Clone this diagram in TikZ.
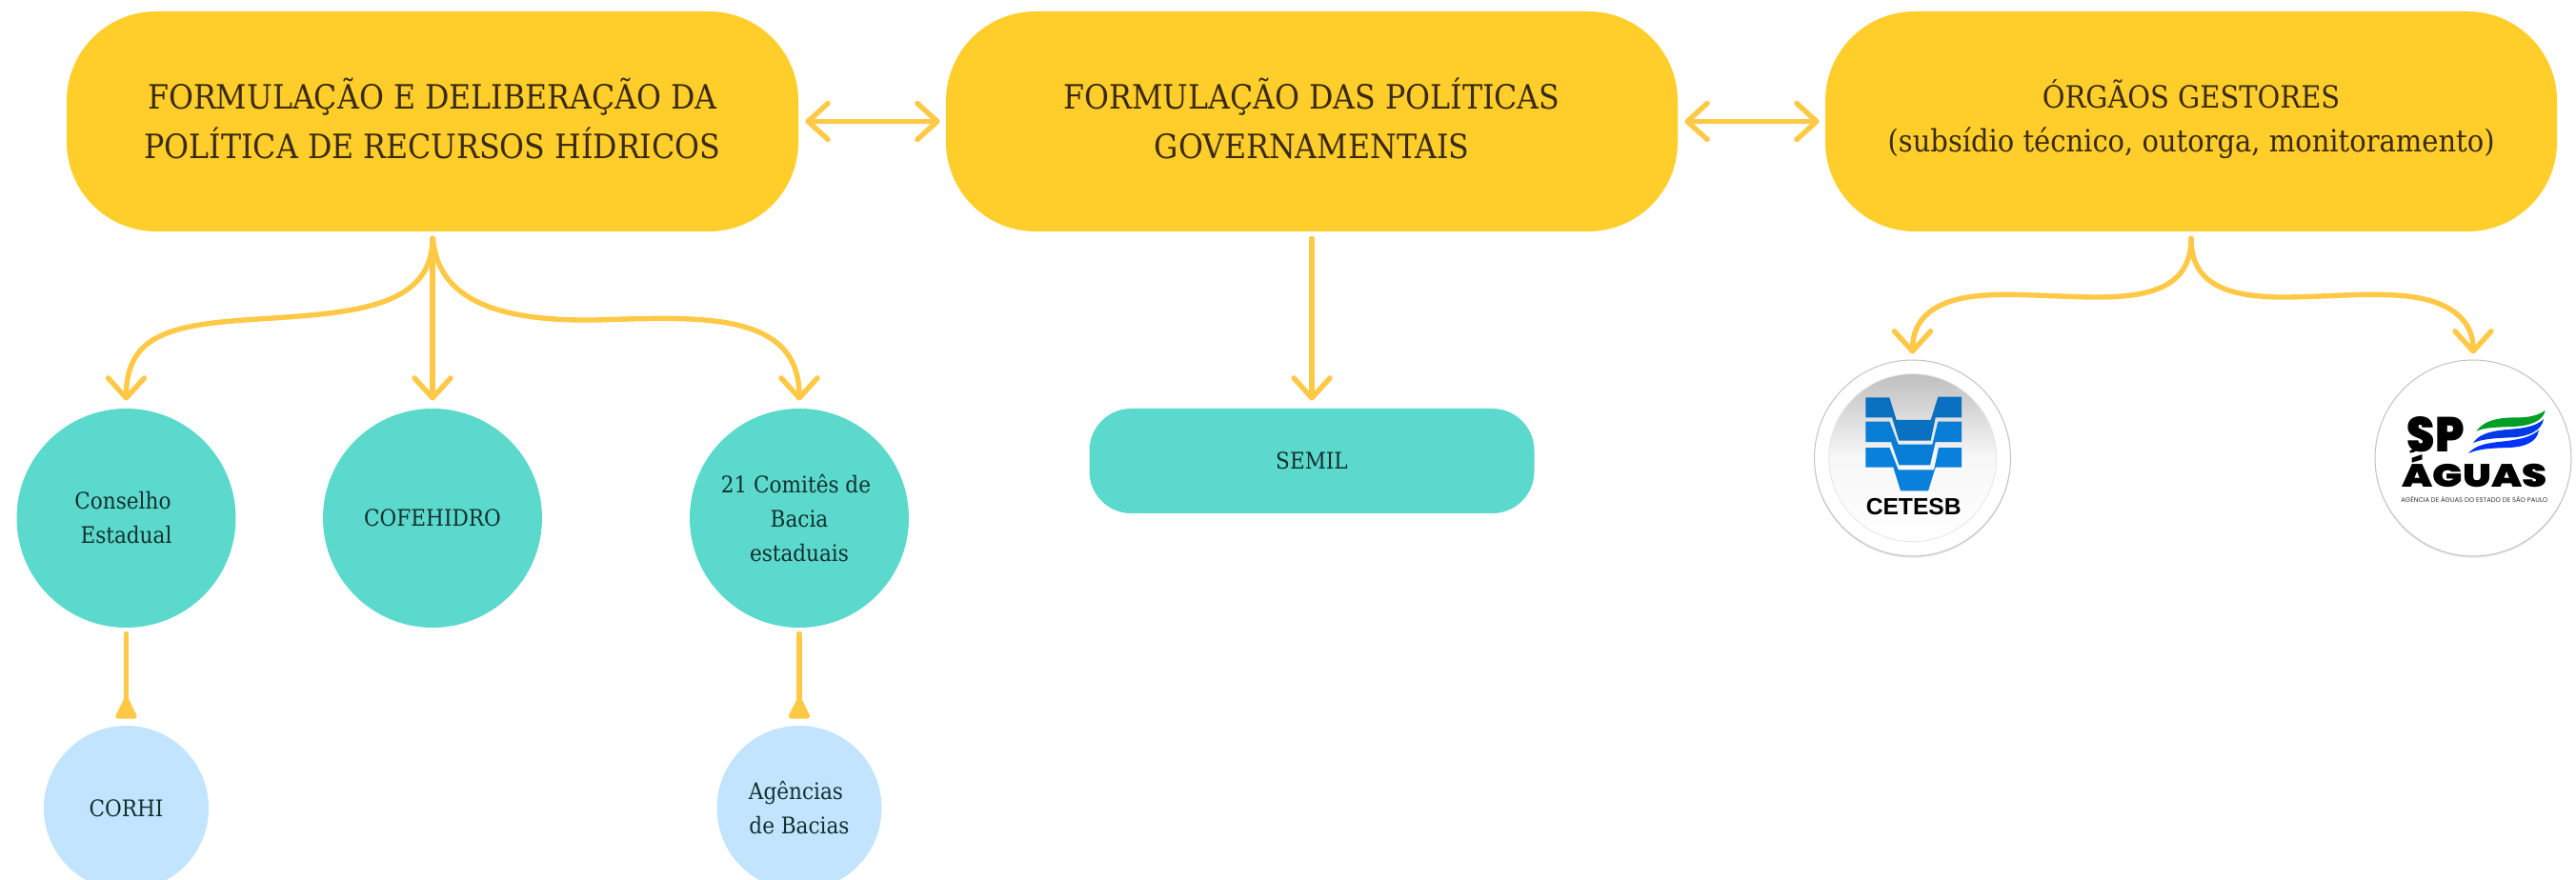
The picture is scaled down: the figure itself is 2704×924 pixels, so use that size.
\documentclass[tikz,border=0pt]{standalone}
\usepackage{fontspec}
\usepackage{graphicx}
\setmainfont{DejaVu Serif Condensed}
\newfontfamily\logofont{Poppins}
\newfontfamily\logoheavy{Poppins Black}
\newfontfamily\arialfont{Liberation Sans}
\usetikzlibrary{arrows.meta}
\definecolor{boxyellow}{HTML}{FFCE2B}
\definecolor{linkyellow}{HTML}{FFC845}
\definecolor{tealfill}{HTML}{5CD9CD}
\definecolor{bluefill}{HTML}{C2E4FF}
\definecolor{ink}{HTML}{3A2A10}
\definecolor{tealink}{HTML}{12302E}
\definecolor{logoA}{HTML}{0A70C0}
\definecolor{logoB}{HTML}{0880DC}
\tikzset{
  topbox/.style={rectangle,rounded corners=47pt,fill=boxyellow,minimum width=384pt,minimum height=115.5pt,inner sep=0pt,align=center,text=ink,font=\fontsize{17.6}{26}\selectfont},
  midcircle/.style={circle,fill=tealfill,minimum size=115pt,inner sep=0pt,align=center,text=tealink,font=\fontsize{12}{18}\selectfont},
  lowcircle/.style={circle,fill=bluefill,minimum size=86.5pt,inner sep=0pt,align=center,text=tealink,font=\fontsize{12}{18}\selectfont},
  semilbox/.style={rectangle,rounded corners=22pt,fill=tealfill,minimum width=233.5pt,minimum height=55pt,inner sep=0pt,text=tealink,font=\fontsize{12}{18}\selectfont},
  logocircle/.style={circle,fill=white,draw=black!24,line width=.5pt,minimum size=103pt,inner sep=0pt},
  barb/.style={line width=2.7pt,draw=linkyellow,line cap=round,-{Straight Barb[round,length=10.5pt,width=19pt]},shorten <=3.5pt,shorten >=3.5pt},
  dbarb/.style={line width=2.7pt,draw=linkyellow,line cap=round,{Straight Barb[round,length=10.5pt,width=19pt]}-{Straight Barb[round,length=10.5pt,width=19pt]},shorten <=3.5pt,shorten >=3pt},
  tri/.style={line width=2.6pt,draw=linkyellow,line cap=round,-{Triangle[reversed,length=13pt,width=12pt,round]},shorten <=3pt,shorten >=3.5pt},
}
\begin{document}
\begin{tikzpicture}[x=0.5pt,y=-0.5pt]
\clip (0,0) rectangle (2704,924);
\fill[white] (0,0) rectangle (2704,924);
% top boxes
\node[topbox] (b1) at (454,127.5) {FORMULAÇÃO E DELIBERAÇÃO DA\\POLÍTICA DE RECURSOS HÍDRICOS\rule[-3.5pt]{0pt}{0pt}};
\node[topbox] (b2) at (1377,127.5) {FORMULAÇÃO DAS POLÍTICAS\\GOVERNAMENTAIS\rule[-3.5pt]{0pt}{0pt}};
\node[topbox,font=\fontsize{16.1}{23}\selectfont] (b3) at (2300,127.5) {ÓRGÃOS GESTORES\\(subsídio técnico, outorga, monitoramento)\rule[-5.5pt]{0pt}{0pt}};
% second row
\node[midcircle] (c1) at (132.5,544) {Conselho\hspace*{3.5pt}\\Estadual};
\node[midcircle] (c2) at (454,544) {COFEHIDRO};
\node[midcircle] (c3) at (839,544) {21 Comitês de\hspace*{3.5pt}\\Bacia\hspace*{3.5pt}\\estaduais};
\node[semilbox] (s) at (1377,484) {SEMIL};
\node[lowcircle] (d1) at (132.5,848.5) {CORHI};
\node[lowcircle] (d2) at (839,848.5) {Agências\hspace*{3.5pt}\\de Bacias};
\fill[black!7] (2007.5,483) circle[radius=103];
\fill[black!7] (2596,483) circle[radius=103];
\node[logocircle] (cet) at (2007.5,481) {};
\node[logocircle] (spa) at (2596,481) {};
% connectors
\draw[dbarb] (b1.east) -- (b2.west);
\draw[dbarb] (b2.east) -- (b3.west);
\draw[barb,shorten >=4pt] (b1.south) -- (c2.north);
\draw[barb,shorten >=4pt] (b2.south) -- (s.north);
\draw[barb,shorten >=4pt] (b1.south) .. controls (454,322) and (372,328) .. (287,334) .. controls (190,340) and (132.5,345) .. (c1.north);
\draw[barb,shorten >=4pt] (b1.south) .. controls (460,325) and (545,337) .. (625,336) .. controls (730,333) and (839,325) .. (c3.north);
\draw[barb,shorten >=3pt] (b3.south) .. controls (2300,300) and (2260,313) .. (2195,312) .. controls (2150,311) and (2110,308) .. (2085,310) .. controls (2030,313) and (2007.5,335) .. (cet.north);
\draw[barb,shorten >=3pt] (b3.south) .. controls (2300,300) and (2340,313) .. (2405,312) .. controls (2450,311) and (2480,308) .. (2515,310) .. controls (2570,313) and (2596,335) .. (spa.north);
\draw[tri] (c1.south) -- (d1.north);
\draw[tri] (c3.south) -- (d2.north);
% CETESB logo
\begin{scope}[shift={(1900,370)},x=0.16667pt,y=-0.16667pt]
\shade[top color=black!25,bottom color=white,middle color=black!3] (323,332) circle[radius=264];
\draw[black!10,line width=.4pt] (323,332) circle[radius=264];
\fill[logoA] (175,142) -- (250,142) -- (272,213) -- (380,213) -- (403,140) -- (477,140) -- (477,205) -- (395,205) -- (380,278) -- (280,278) -- (258,205) -- (175,205) -- cycle;
\fill[logoB!80!logoA] (175,218) -- (250,218) -- (278,290) -- (385,290) -- (403,218) -- (477,218) -- (477,282) -- (395,282) -- (378,355) -- (280,355) -- (255,282) -- (175,282) -- cycle;
\fill[logoB] (175,300) -- (250,300) -- (278,370) -- (390,370) -- (405,300) -- (477,300) -- (477,362) -- (395,362) -- (372,436) -- (285,436) -- (262,362) -- (175,362) -- cycle;
\node[inner sep=0pt,font=\arialfont\bfseries\fontsize{12.3}{14}\selectfont,text=black] (cetname) at (326,487) {CETESB};
\end{scope}
% SP AGUAS logo
\begin{scope}[shift={(2480,370)},x=0.16667pt,y=-0.16667pt]
\fill[green!55!black!85!cyan] (358,248) .. controls (390,205) and (450,205) .. (500,205) .. controls (535,203) and (560,195) .. (575,182) .. controls (570,215) and (530,232) .. (470,234) .. controls (425,236) and (385,236) .. (358,248) -- cycle;
\fill[blue!75!cyan!90!black] (348,285) .. controls (375,245) and (440,245) .. (490,240) .. controls (530,235) and (555,225) .. (570,210) .. controls (565,245) and (525,265) .. (470,268) .. controls (420,270) and (380,272) .. (348,285) -- cycle;
\fill[blue!80!cyan] (333,318) .. controls (365,280) and (430,285) .. (480,275) .. controls (515,270) and (540,258) .. (555,245) .. controls (550,280) and (515,298) .. (460,300) .. controls (410,302) and (370,302) .. (333,318) -- cycle;
\node[inner sep=0pt,text=black] (spname) at (230,260) {\resizebox{30pt}{18.5pt}{\logoheavy SP}};
\fill[black] (160,292) -- (178,292) .. controls (178,305) and (168,315) .. (150,317) -- (148,310) .. controls (158,308) and (160,302) .. (160,292) -- cycle;
\node[inner sep=0pt,text=black] (aguas) at (352,373) {\resizebox{76pt}{17pt}{\logoheavy ÁGUAS}};
\node[inner sep=0pt,text=black!80] (agname) at (352,463) {\resizebox{77pt}{!}{\logofont AGÊNCIA DE ÁGUAS DO ESTADO DE SÃO PAULO}};
\end{scope}
\end{tikzpicture}
\end{document}
